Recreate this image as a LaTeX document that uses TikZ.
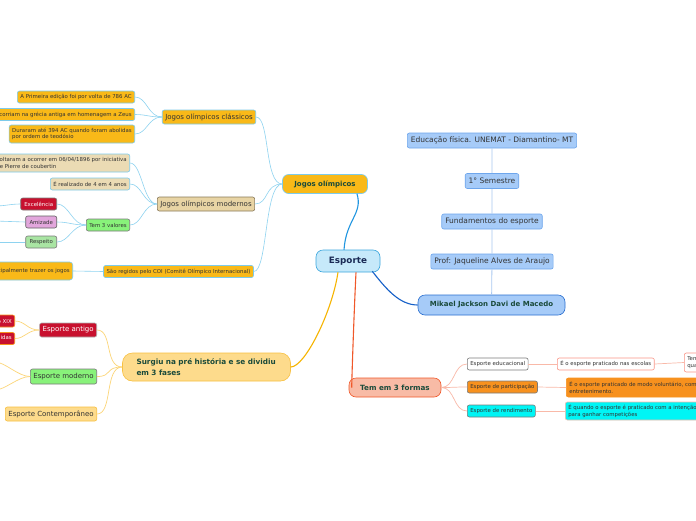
\documentclass[tikz,border=0pt]{standalone}
\usepackage{fontspec}
\setmainfont{DejaVu Sans}
\definecolor{oly}{HTML}{F9B918}
\definecolor{lb}{HTML}{7DCBEB}
\definecolor{lbc}{HTML}{8ED3F0}
\definecolor{espfill}{HTML}{C6E9FA}
\definecolor{espdraw}{HTML}{3AA6DD}
\definecolor{tan}{HTML}{E8D4A4}
\definecolor{tanl}{HTML}{EBDBB4}
\definecolor{tandraw}{HTML}{8A7A5A}
\definecolor{grn}{HTML}{88F27A}
\definecolor{gry}{HTML}{7A7A7A}
\definecolor{crim}{HTML}{C8102E}
\definecolor{pnk}{HTML}{E2A6DC}
\definecolor{lgrn}{HTML}{A9E5A3}
\definecolor{rcfill}{HTML}{A6CBF8}
\definecolor{rcdraw}{HTML}{6EA6EC}
\definecolor{rcline}{HTML}{A9C8F0}
\definecolor{mikdraw}{HTML}{2A6FD0}
\definecolor{sufill}{HTML}{FDDB8C}
\definecolor{sudraw}{HTML}{F8C040}
\definecolor{suline}{HTML}{FCD679}
\definecolor{tfill}{HTML}{F8BBA6}
\definecolor{tdraw}{HTML}{F0582A}
\definecolor{tline}{HTML}{F9B9A8}
\definecolor{porange}{HTML}{F7911E}
\definecolor{cyn}{HTML}{00F5F5}
\definecolor{txt}{HTML}{333333}
\definecolor{dgreen}{HTML}{1A4A3A}
\definecolor{navy}{HTML}{1A2A55}
\definecolor{cjo}{HTML}{2196E0}
\definecolor{cmik}{HTML}{1560C8}
\definecolor{csu}{HTML}{F6B400}
\definecolor{ct}{HTML}{F0582A}
\begin{document}
\begin{tikzpicture}[x=1pt,y=-1pt,
  base/.style={draw, rounded corners=2pt, line width=0.6pt, inner xsep=3pt, inner ysep=1pt, align=left, text=txt},
  sm/.style={base, font=\fontsize{5.4}{6.4}\selectfont, minimum height=12pt},
  md/.style={base, font=\fontsize{7}{8.4}\selectfont, minimum height=14pt},
  rc/.style={base, fill=rcfill, draw=rcdraw, font=\fontsize{7.5}{9}\selectfont, minimum height=15pt, inner xsep=3.5pt},
  lbline/.style={draw=lbc, line width=0.6pt},
  suln/.style={draw=suline, line width=0.7pt},
  tln/.style={draw=tline, line width=0.7pt},
  mainln/.style={line width=1.1pt},
]
\useasboundingbox (0,0) rectangle (696,520);
\clip (0,0) rectangle (696,520);
\fill[white] (0,0) rectangle (696,520);

% central
\node[base, fill=espfill, draw=espdraw, rounded corners=7pt, minimum width=64pt, minimum height=22pt, font=\bfseries\fontsize{8.8}{10}\selectfont, text=navy] (es) at (348,261) {Esporte};

% Jogos olimpicos branch
\node[base, fill=oly, draw=lb, rounded corners=6pt, minimum width=85pt, minimum height=19pt, font=\bfseries\fontsize{7}{8}\selectfont, text=dgreen] (jo) at (325,184) {Jogos olímpicos};

\node[md, fill=oly, draw=lb] (jc) at (209,117) {Jogos olímpicos clássicos};
\node[sm, fill=oly, draw=lb, anchor=east] (c1) at (135,97) {A Primeira edição foi por volta de 786 AC};
\node[sm, fill=oly, draw=lb, anchor=east] (c2) at (135,114.5) {Ocorriam na grécia antiga em homenagem a Zeus};
\node[sm, fill=oly, draw=lb, anchor=east, minimum height=18pt] (c3) at (135,134) {Duraram até 394 AC quando foram abolidas\\por ordem de teodósio};

\node[md, fill=tan, draw=tandraw] (jm) at (206,204) {Jogos olímpicos modernos};
\node[sm, fill=tanl, draw=lb, anchor=east, minimum height=18pt] (m1) at (130,163) {Voltaram a ocorrer em 06/04/1896 por iniciativa\\de Pierre de coubertin};
\node[sm, fill=tanl, draw=lb, anchor=east] (m2) at (130,184) {É realizado de 4 em 4 anos};
\node[sm, fill=grn, draw=gry, anchor=east] (m3) at (130,225) {Tem 3 valores};
\node[sm, fill=crim, draw=gry, text=white, anchor=east, minimum width=36pt, inner xsep=1pt, align=center] (v1) at (57,204) {Excelência};
\node[sm, fill=pnk, draw=gry!80!black, anchor=east, minimum width=31pt, inner xsep=1pt, align=center] (v2) at (57,222) {Amizade};
\node[sm, fill=lgrn, draw=gry, anchor=east, minimum width=31pt, inner xsep=1pt, align=center] (v3) at (57,242) {Respeito};
\coordinate (v1o) at (-5,206);
\coordinate (v2o) at (-5,221);
\coordinate (v3o) at (-5,242);

\node[sm, fill=oly, draw=lb] (coi) at (178.5,271.5) {São regidos pelo COI (Comitê Olímpico Internacional)};
\node[sm, fill=oly, draw=lb, anchor=east, minimum height=18pt, rounded corners=3pt] (coi1) at (73,271) {principalmente trazer os jogos};

\draw[lbline] (jo.west) .. controls +(-18,0) and +(14,0) .. (jc.east);
\draw[lbline] (jo.west) .. controls +(-18,0) and +(14,0) .. (jm.east);
\draw[lbline] (jo.west) .. controls +(-18,0) and +(14,0) .. (coi.east);
\foreach \c in {c1,c2,c3} \draw[lbline] (jc.west) .. controls +(-14,0) and +(12,0) .. (\c.east);
\foreach \c in {m1,m2,m3} \draw[lbline] (jm.west) .. controls +(-14,0) and +(12,0) .. (\c.east);
\foreach \c in {v1,v2,v3} \draw[lbline] (m3.west) .. controls +(-14,0) and +(12,0) .. (\c.east);
\draw[lbline] (v1.west) .. controls +(-10,0) and +(10,0) .. (v1o);
\draw[lbline] (v2.west) -- (v2o);
\draw[lbline] (v3.west) -- (v3o);
\draw[lbline] (coi.west) -- (coi1.east);

% right column
\node[rc] (r1) at (492,140.5) {Educação física. UNEMAT - Diamantino- MT};
\node[rc] (r2) at (492,181) {1° Semestre};
\node[rc] (r3) at (492,221.5) {Fundamentos do esporte};
\node[rc] (r4) at (492,261.5) {Prof: Jaqueline Alves de Araujo};
\node[base, fill=rcfill, draw=mikdraw, rounded corners=7pt, minimum width=147pt, minimum height=20pt, font=\bfseries\fontsize{7}{8.4}\selectfont, text=dgreen, align=center] (r5) at (491.5,305) {Mikael Jackson Davi de Macedo};
\draw[draw=rcline, line width=0.8pt] (r1) -- (r2) -- (r3) -- (r4) -- (r5);

% Surgiu branch
\node[base, fill=sufill, draw=sudraw, rounded corners=10pt, minimum width=167pt, minimum height=28pt, text width=140pt, inner xsep=14pt, font=\bfseries\fontsize{7.3}{10.5}\selectfont, text=dgreen] (su) at (206.5,367) {Surgiu na pré história e se dividiu\\em 3 fases};
\node[md, fill=crim, draw=gry!60, text=white, anchor=east] (ea) at (97,330) {Esporte antigo};
\node[sm, fill=crim, draw=porange, text=white, anchor=east] (ea1) at (15,321) {Até o século XIX};
\node[sm, fill=crim, draw=porange, text=white, anchor=east] (ea2) at (15,338.5) {Sem regras definidas};
\node[md, fill=grn, draw=gry, anchor=east, minimum height=15pt] (em) at (97,376.5) {Esporte moderno};
\coordinate (em1) at (-5,362);
\coordinate (em2) at (-5,390);
\node[md, fill=sufill, draw=sudraw, anchor=east] (ec) at (97,414) {Esporte Contemporâneo};
\foreach \c in {ea,em,ec} \draw[suln] (su.west) .. controls +(-18,0) and +(16,0) .. (\c.east);
\foreach \c in {ea1,ea2} \draw[suln] (ea.west) .. controls +(-12,0) and +(10,0) .. (\c.east);
\draw[suln] (em.west) .. controls +(-12,0) and +(10,0) .. (em1);
\draw[suln] (em.west) .. controls +(-12,0) and +(10,0) .. (em2);

% Tem em 3 formas branch
\node[base, fill=tfill, draw=tdraw, rounded corners=7pt, minimum width=92pt, minimum height=19pt, font=\bfseries\fontsize{7.2}{8.6}\selectfont, text=dgreen, align=center] (t3) at (395,387.5) {Tem em 3 formas};
\node[sm, fill=white, draw=gry, anchor=west] (e1) at (467,364) {Esporte educacional};
\node[sm, fill=white, draw=tline!80!red, anchor=west] (e1a) at (557,364) {É o esporte praticado nas escolas};
\node[sm, fill=white, draw=tline!80!red, anchor=west, minimum height=19pt] (e1b) at (684,362.5) {Tem por objetivo a formação\\quanto ao desenvolvimento};
\node[sm, fill=porange, draw=gry, anchor=west] (e2) at (467,387) {Esporte de participação};
\node[sm, fill=porange, draw=porange, anchor=west, minimum height=19pt] (e2a) at (566,387.5) {É o esporte praticado de modo voluntário, com a finalidade de\\entretenimento.};
\node[sm, fill=cyn, draw=gry, anchor=west] (e3) at (467,411) {Esporte de rendimento};
\node[sm, fill=cyn, draw=tline, anchor=west, minimum height=18pt] (e3a) at (565,411) {É quando o esporte é praticado com a intenção de resultados\\para ganhar competições};
\foreach \c in {e1,e2,e3} \draw[tln] (t3.east) .. controls +(14,0) and +(-14,0) .. (\c.west);
\draw[tln] (e1.east) -- (e1a.west);
\draw[tln] (e1a.east) -- (e1b.west);
\draw[tln] (e2.east) -- (e2a.west);
\draw[tln] (e3.east) -- (e3a.west);

% main connectors
\draw[mainln, draw=cjo] ([xshift=-4pt]es.north) .. controls +(2,-30) and +(6,20) .. ([xshift=32pt]jo.south);
\draw[mainln, draw=cmik] ([xshift=-8pt,yshift=1pt]es.south east) .. controls +(14,18) and +(-18,0) .. (r5.west);
\draw[mainln, draw=csu] ([xshift=-10pt]es.south) .. controls +(-6,40) and +(14,0) .. (su.east);
\draw[mainln, draw=ct] ([xshift=8pt]es.south) .. controls +(-2,40) and +(0,-6) .. ([xshift=3pt]t3.west);
\end{tikzpicture}
\end{document}
